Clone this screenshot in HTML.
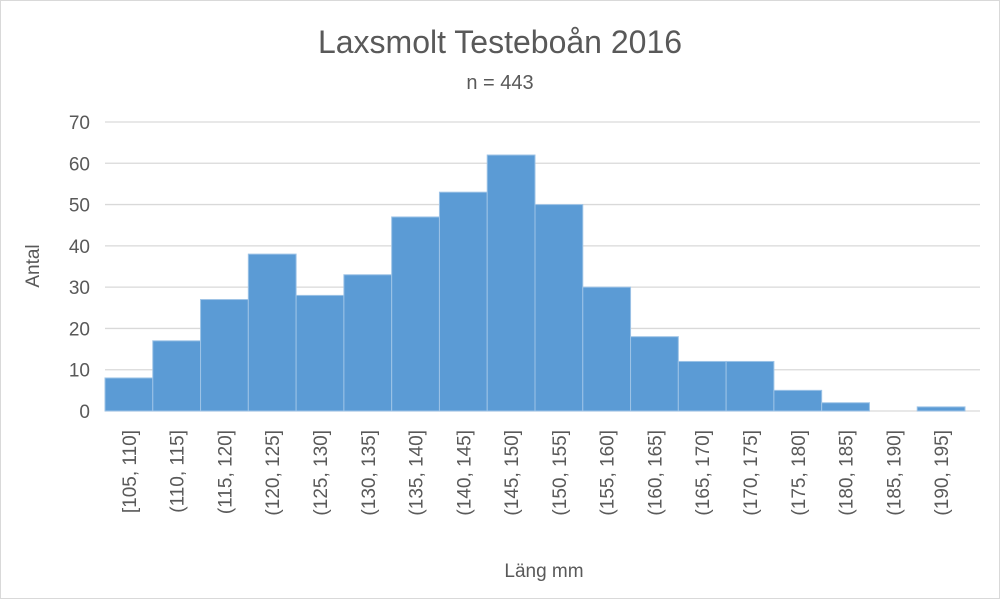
<!DOCTYPE html>
<html><head><meta charset="utf-8"><style>
body{margin:0;background:#fff}
svg{display:block;font-family:"Liberation Sans","DejaVu Sans",sans-serif}
</style></head><body>
<svg width="1000" height="599" viewBox="0 0 1000 599">
<rect x="0.5" y="0.5" width="999" height="598" fill="#fff" stroke="#d9d9d9"/>
<text x="500" y="53" text-anchor="middle" font-size="32" fill="#595959">Laxsmolt Testeboån 2016</text>
<text x="500" y="89" text-anchor="middle" font-size="20" fill="#595959">n = 443</text>
<g id="grid"></g><g id="bars"></g><g id="ylab"></g><g id="xlab"></g>
<text transform="translate(39,266) rotate(-90)" text-anchor="middle" font-size="19" fill="#595959">Antal</text>
<text x="544" y="577" text-anchor="middle" font-size="19" fill="#595959">Läng mm</text>
</svg>
<script>
const categories=["[105, 110]","(110, 115]","(115, 120]","(120, 125]","(125, 130]","(130, 135]","(135, 140]","(140, 145]","(145, 150]","(150, 155]","(155, 160]","(160, 165]","(165, 170]","(170, 175]","(175, 180]","(180, 185]","(185, 190]","(190, 195]"];
const counts=[8,17,27,38,28,33,47,53,62,50,30,18,12,12,5,2,0,1];
const yTicks=[0,10,20,30,40,50,60,70];
const NS="http://www.w3.org/2000/svg";
const X0=105,X1=965,Y0=411,Y1=122,YMAX=70,GR=980;
const bw=(X1-X0)/categories.length;
const xs=i=>X0+i*bw;
const ys=v=>Y0-(v/YMAX)*(Y0-Y1);
function mk(t,a,p){const e=document.createElementNS(NS,t);for(const k in a)e.setAttribute(k,a[k]);p.appendChild(e);return e;}
const grid=document.getElementById('grid'),bars=document.getElementById('bars'),yl=document.getElementById('ylab'),xl=document.getElementById('xlab');
yTicks.forEach(t=>{
 const l=mk('line',{x1:X0,x2:GR,y1:ys(t),y2:ys(t),stroke:'#d9d9d9','stroke-width':1.3},grid);
 
 
 const tx=mk('text',{x:90,y:ys(t)+7,'text-anchor':'end','font-size':19,fill:'#595959'},yl);
 tx.textContent=t;
 
 
});
counts.forEach((v,i)=>{
 const r=mk('rect',{x:xs(i),y:ys(v),width:bw,height:Y0-ys(v),fill:'#5b9bd5',stroke:'#9dc3e6','stroke-width':1},bars);
 
 
 const t=mk('text',{transform:`translate(${xs(i)+bw/2+7},430) rotate(-90)`,'text-anchor':'end','font-size':19,fill:'#595959'},xl);
 t.textContent=categories[i];
 
 
});
</script>
</body></html>
